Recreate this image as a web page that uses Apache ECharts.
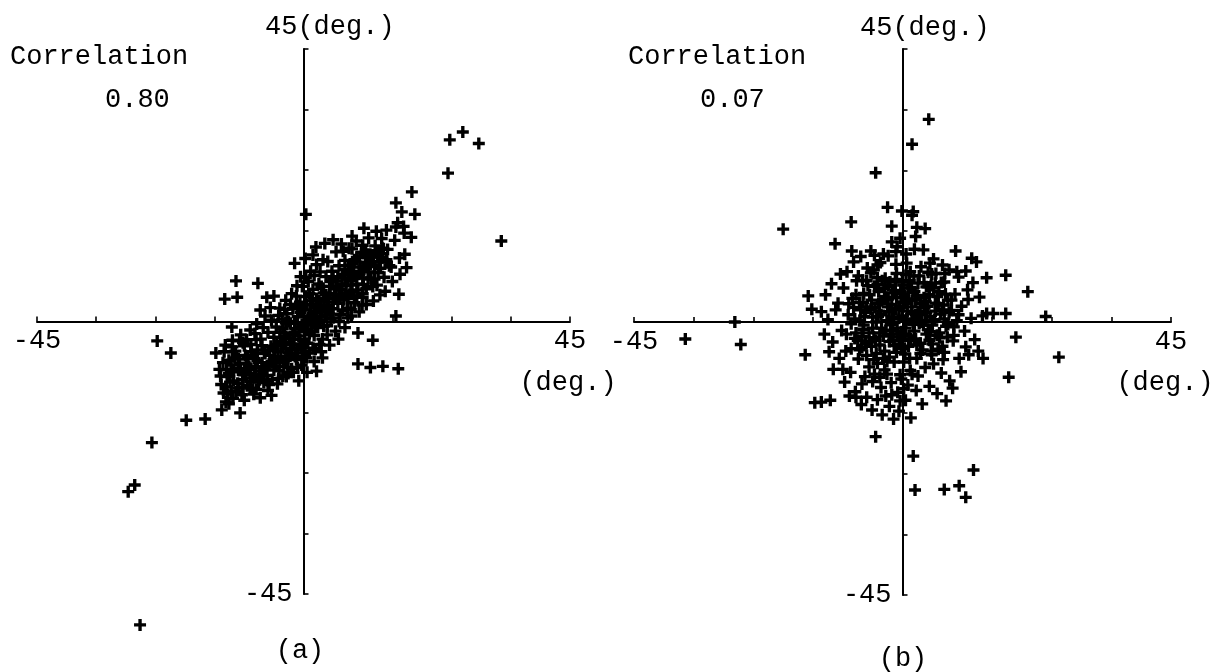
<!DOCTYPE html>
<html>
<head>
<meta charset="utf-8">
<script src="https://cdn.jsdelivr.net/npm/echarts@6/dist/echarts.min.js"></script>
<style>
html,body{margin:0;padding:0;background:#fff;}
#chart{width:1222px;height:672px;}
</style>
</head>
<body>
<div id="chart"></div>
<script>
// ---- DATA ----
const axisRange = [-45, 45];
const tickStep = 10;
const endLabels = ['-45', '45'];
const unitLabel = '(deg.)';
const panelLabels = ['(a)', '(b)'];
const corrTitle = 'Correlation';
const correlations = ['0.80', '0.07'];

// panel (a): [x, y] in degrees
const pointsA = [
 [-27.6,-50.1],[-29.6,-28.1],[-28.5,-27.0],[-25.6,-20.0],[-19.8,-16.3],[-16.6,-16.1],[-13.8,-14.6],[-13.1,-13.3],[-10.7,-15.1],
 [-24.7,-3.2],[-22.4,-5.2],[-11.4,6.7],[-7.7,6.3],[-13.3,3.7],[-11.2,4.0],[-12.1,-0.9],[-10.2,-3.5],[-6.2,4.0],[-5.0,4.2],[-7.3,1.9],
 [26.9,31.3],[24.7,30.0],[29.6,29.4],[33.4,13.3],[24.4,24.5],[18.3,21.4],[15.6,19.6],[16.6,18.1],[18.8,17.7],[15.6,15.6],[18.2,13.9],
 [17.1,11.1],[8.2,14.1],[10.0,12.6],[8.2,12.0],[6.7,11.6],[5.5,11.5],[13.3,12.1],[11.7,11.0],[10.9,10.5],[10.7,9.7],[14.1,9.8],[14.5,9.2],
 [1.6,11.0],[0.4,17.7],[0.4,7.2],[12.9,4.4],[16.1,4.5],[10.0,4.0],[9.9,2.7],[15.6,0.9],[7.5,0.6],[9.2,-1.9],[11.7,-3.1],
 [9.2,-7.0],[11.3,-7.6],[13.4,-7.4],[16.0,-7.8],[2.2,-8.2],[0.3,-5.0],
 [-14.8,-5.2],[-14.2,-7.9],[-13.9,-10.4],[-13.5,-11.8],[-12.9,-9.1],[-12.6,-6.4],[-12.2,-11.5],[-11.8,-8.3],[-11.5,-4.9],[-11.1,-10.2],
 [-10.8,-6.9],[-10.4,-12.1],[-10.1,-8.8],[-9.8,-5.6],[-9.5,-10.6],[-9.2,-7.4],[-8.9,-3.8],[-8.6,-9.3],[-8.3,-6.1],[-8.0,-11.2],
 [-7.8,-4.7],[-7.5,-8.2],[-7.2,-2.9],[-7.0,-6.8],[-6.7,-10.1],[-6.5,-5.3],[-6.2,-8.9],[-6.0,-1.8],[-5.8,-7.0],[-5.5,-4.1],
 [-5.3,-9.6],[-5.0,-2.6],[-4.8,-6.2],[-4.6,-0.9],[-4.3,-5.0],[-4.1,-8.1],[-3.9,-3.3],[-3.6,0.4],[-3.4,-6.7],[-3.2,-1.9],
 [-3.0,-4.5],[-2.8,1.3],[-2.6,-7.6],[-2.4,-2.8],[-2.2,-0.3],[-2.0,-5.5],[-1.8,2.1],[-1.6,-3.7],[-1.4,-1.2],[-1.2,-6.3],
 [-1.0,0.8],[-0.8,-2.4],[-0.6,3.2],[-0.4,-4.2],[-0.2,-0.6],[0.0,1.9],[0.2,-3.1],[0.4,4.1],[0.6,-1.5],[0.8,0.6],
 [1.0,-5.2],[1.2,2.7],[1.4,-0.4],[1.6,5.3],[1.8,-2.3],[2.0,1.4],[2.2,3.8],[2.4,-1.0],[2.6,6.2],[2.8,0.2],
 [3.0,2.5],[3.2,-2.9],[3.4,4.7],[3.6,1.1],[3.8,7.4],[4.0,-0.7],[4.2,3.2],[4.4,5.8],[4.6,0.5],[4.8,8.3],
 [5.0,2.1],[5.2,4.4],[5.4,-1.6],[5.6,6.7],[5.8,3.0],[6.0,9.2],[6.2,1.2],[6.4,5.3],[6.6,7.8],[6.8,3.6],
 [7.0,10.1],[7.2,5.9],[7.4,2.2],[7.6,8.4],[7.8,4.5],[8.0,6.8],[8.3,9.6],[8.6,3.1],[8.9,7.5],[9.2,5.2],
 [9.5,10.7],[9.8,8.3],[10.1,6.1],[10.5,11.8],[10.9,7.2],[11.3,9.4],[11.7,5.8],[12.1,12.5],[12.6,8.1],[13.1,10.6],
 [13.6,7.3],[14.2,11.9],[14.8,9.0],[15.4,13.4],[16.2,10.5],[17.0,14.6],
 [-13.2,-3.9],[-12.0,-3.1],[-10.6,-2.2],[-9.0,-1.4],[-8.4,-12.0],[-7.3,-12.6],[-11.9,-12.7],[-12.8,-12.0],[-6.0,-11.4],[-4.4,-10.3],
 [-2.9,-9.1],[-1.7,-8.4],[-0.3,-7.2],[0.5,-6.0],[1.6,-4.4],[2.7,-3.8],[-4.0,2.2],[-3.0,3.5],[-2.0,4.6],[-1.1,5.9],
 [-0.5,7.4],[-6.5,0.9],[-5.6,2.3],[-7.9,-0.4],[1.2,8.3],[2.2,9.4],[3.3,10.2],[4.1,9.9],[3.0,-5.0],[4.4,-3.9],
 [5.9,-2.9],[7.0,-1.0],[8.1,0.9],[9.4,1.6],[10.6,2.8],[11.8,3.4],[12.4,6.0],[13.8,5.0],[15.0,6.6],[16.3,7.8],
 [17.4,8.9],[-1.5,9.6],[0.3,10.4],[2.1,12.3],[3.6,12.9],[5.0,13.5],[6.4,12.8],[8.9,13.3],[7.7,12.1],[11.0,13.8],
 [12.3,14.9],[14.0,15.1],[13.2,13.7],[15.9,16.3],[16.9,15.7],[10.2,15.4],
 [-13.0,-8.0],[-12.4,-10.0],[-11.6,-6.0],[-11.0,-8.0],[-10.3,-9.6],[-9.6,-7.0],[-9.0,-9.9],[-8.8,-5.0],[-8.1,-7.6],[-7.6,-10.0],
 [-7.0,-4.0],[-6.6,-7.5],[-6.0,-9.8],[-5.7,-5.6],[-5.0,-8.0],[-4.5,-3.8],[-4.0,-6.8],[-3.5,-9.0],[-3.0,-2.5],[-2.5,-5.2],
 [-2.0,-7.8],[-1.5,-1.8],[-1.0,-4.6],[-0.5,-1.0],[0.0,-4.0],[0.5,0.2],[1.0,-2.0],[1.5,1.0],[2.0,-0.8],[2.5,2.6],
 [3.0,0.8],[3.5,3.6],[4.0,1.6],[4.5,4.6],[5.0,3.2],[5.5,5.4],[6.0,3.8],[6.5,6.2],[7.0,4.6],[7.5,7.0],
 [8.0,5.0],[8.5,8.0],[9.0,6.2],[9.5,9.0],[10.0,7.2],[10.5,9.8],[11.0,8.2],[11.5,10.8],[12.0,9.2],[12.5,11.0],
 [13.0,8.8],[13.5,12.0],[14.0,10.2],[-12.0,-5.0],[-10.0,-4.0],[-8.0,-3.0],[-6.0,-4.8],[-4.0,-1.8],[-2.0,-3.8],[0.0,-1.0],
 [2.0,0.4],[4.0,2.6],[6.0,5.2],[8.0,8.0],[10.0,9.0],[12.0,7.0],[-1.0,2.6],[1.0,4.6],[3.0,5.8],[5.0,7.0],
 [7.0,8.6],[9.0,10.6],[-3.0,-0.2],[-5.0,-6.6],[-7.0,-8.8],[-9.0,-11.0],[-11.0,-11.0],[0.0,-5.8],[2.0,-4.6],[4.0,-2.2],
 [6.0,0.0],[8.0,2.0],[10.0,4.6],[-0.5,1.5],[0.5,2.8],[1.5,3.4],[-1.5,-0.2],[-2.5,0.0],[-3.5,-1.2],
 [-14.0,-9.0],[-13.6,-6.8],[-13.0,-10.8],[-12.6,-8.6],[-12.2,-7.2],[-11.8,-9.8],[-11.4,-11.6],[-11.0,-6.2],[-10.6,-7.8],[-10.2,-10.8],
 [-9.8,-8.4],[-9.4,-6.0],[-9.0,-8.0],[-8.6,-11.2],[-8.2,-9.0],[-7.8,-6.4],[-7.4,-9.6],[-7.0,-7.6],[-6.6,-5.2],[-6.2,-8.0],
 [-5.8,-10.4],[-5.4,-6.6],[-5.0,-4.6],[-4.6,-7.4],[-4.2,-9.4],[-3.8,-5.8],[-3.4,-3.4],[-3.0,-6.4],[-2.6,-8.6],[-2.2,-4.4],
 [-1.8,-2.2],[-1.4,-5.8],[-1.0,-7.6],[-0.6,-3.0],[-0.2,-5.2],[0.2,-0.6],[0.6,-3.6],[1.0,0.8],[1.4,-1.6],[1.8,2.2],
 [2.2,-0.2],[2.6,3.4],[3.0,1.8],[3.4,-0.8],[3.8,4.4],[4.2,2.0],[4.6,6.6],[5.0,0.6],[5.4,3.8],[5.8,7.4],
 [6.2,4.2],[6.6,1.8],[7.0,7.2],[7.4,3.8],[7.8,9.2],[8.2,6.0],[8.6,10.2],[9.0,4.2],[9.4,7.8],[9.8,11.4],
 [10.2,8.6],[10.6,5.4],[11.0,11.0],[11.4,7.0],[11.8,9.8],[12.2,11.6],[12.8,9.8],[13.4,11.2],[-13.4,-5.0],[-12.0,-4.2],
 [-10.8,-3.2],[-9.6,-3.0],[-8.2,-2.0],[-6.8,-1.0],[-5.4,0.2],[-4.2,1.0],[-3.2,2.0],[-2.2,2.8],[-1.2,4.2],[-0.2,5.8],
 [0.8,6.6],[1.8,7.6],[2.8,8.2],[-0.8,-9.8],[0.6,-8.4],[1.8,-6.6],[3.2,-6.0],[-12.6,-13.6],[-10.0,-13.0],[-5.4,-12.2]
];

// panel (b): [x, y] in degrees
const pointsB = [
 [4.4,33.4],[1.6,29.3],[-4.5,24.6],[-20.0,15.3],[-2.5,18.9],[-0.1,18.3],[1.8,18.2],[1.6,17.6],[-8.6,16.5],[-1.8,15.8],
 [2.4,15.6],[3.8,15.4],[2.2,14.1],[-11.3,12.9],[-8.5,11.7],[-1.8,13.2],[-0.4,13.8],[-1.1,11.6],[-4.7,11.0],[-3.2,11.2],
 [-4.2,9.4],[-9.3,8.3],[-6.7,6.9],[-5.3,8.1],[-4.2,7.3],[8.9,11.7],[11.6,10.5],[12.4,9.9],[14.1,7.3],[17.3,7.7],
 [21.0,5.0],[11.0,3.7],[-15.8,4.3],[-15.2,2.1],[14.1,1.4],[15.2,1.4],[17.3,1.4],[24.0,0.9],[19.0,-2.5],[10.6,-4.1],
 [-16.3,-5.4],[4.9,-5.4],[13.5,-6.0],[7.1,8.0],[9.1,8.3],[4.6,9.7],[0.7,9.7],[1.3,8.3],
 [-36.4,-2.8],[-27.1,-3.7],[-28.1,0.0],[-11.6,-7.8],[-14.7,-13.3],[-13.6,-13.2],[-12.1,-12.9],[-7.8,-12.4],
 [-4.5,-18.9],[1.8,-22.1],[2.1,-27.7],[11.9,-24.4],[7.0,-27.6],[9.5,-27.0],[10.6,-28.9],
 [17.8,-9.1],[26.2,-5.8],
 [-10.8,3.1],[-10.2,-1.4],[-9.9,5.6],[-9.5,-4.8],[-9.1,1.2],[-8.7,-8.3],[-8.4,3.9],[-8.0,-2.7],[-7.7,6.8],[-7.4,-6.1],
 [-7.1,0.3],[-6.8,-10.2],[-6.5,4.7],[-6.2,-3.6],[-5.9,8.9],[-5.6,-7.4],[-5.3,2.1],[-5.0,-1.0],[-4.7,5.9],[-4.4,-5.2],
 [-4.1,0.9],[-3.8,-9.1],[-3.5,3.5],[-3.2,-2.3],[-2.9,7.2],[-2.6,-6.5],[-2.3,1.7],[-2.0,-0.4],[-1.7,4.8],[-1.4,-3.9],
 [-1.1,9.5],[-0.8,-11.6],[-0.5,2.6],[-0.2,-1.6],[0.1,6.1],[0.4,-5.3],[0.7,0.5],[1.0,3.8],[1.3,-8.0],[1.6,1.4],
 [1.9,7.6],[2.2,-2.8],[2.5,4.4],[2.8,-0.2],[3.1,9.1],[3.4,-4.6],[3.7,2.3],[4.0,5.8],[4.3,-1.3],[4.6,0.9],
 [4.9,7.9],[5.2,-6.9],[5.5,3.1],[5.8,-2.2],[6.1,5.0],[6.4,1.3],[6.7,-4.0],[7.0,6.6],[7.3,-0.7],[7.6,3.6],
 [7.9,-9.7],[8.2,1.9],[8.5,-3.1],[8.8,4.6],[9.1,0.2],[9.5,-6.0],[9.9,2.6],[10.4,-1.5],[10.9,5.3],[11.5,0.6],[12.1,-2.9],
 [-12.5,0.4],[-11.7,-3.3],[-11.2,2.0],[-10.6,-6.0],[-9.7,-9.9],[-8.9,-12.2],[-7.9,-11.5],[-6.9,-13.6],[-6.0,-12.4],[-5.1,-14.5],
 [-4.2,-12.8],[-3.4,-15.3],[-2.2,-13.9],[-1.5,-16.0],[-0.6,-14.7],[0.5,-12.9],[1.4,-15.8],[2.3,-11.3],[3.3,-13.5],[4.5,-10.6],
 [-1.9,-10.0],[-0.4,-8.7],[0.9,-10.4],[2.6,-8.9],[3.8,-7.5],[-3.0,-7.9],[-4.7,-8.6],[-6.3,-9.0],[-10.0,-7.8],[-12.3,-4.9],
 [-13.1,-2.0],[-13.6,1.7],[-12.9,4.5],[-11.9,6.3],[-10.4,7.9],[-8.2,9.9],[-7.0,10.8],[-5.3,11.7],[-3.7,9.8],[-2.4,10.9],
 [-0.9,12.4],[0.6,11.2],[2.0,12.0],[3.5,11.9],[5.2,10.4],[6.7,9.4],[7.8,8.6],[9.4,7.4],[10.6,8.4],[11.8,6.5],
 [12.9,4.1],[13.4,1.0],[12.7,-4.8],[11.1,-5.4],[9.8,-8.2],[8.4,-10.9],[6.5,-8.4],[5.8,-11.8],[7.3,-13.0],[-2.8,4.1],
 [-1.2,2.0],[0.3,3.1],[1.8,0.0],[-0.9,-1.0],[0.0,-3.0],[1.1,-2.3],[2.6,1.7],[3.9,3.4],[-3.9,1.8],[-4.8,-2.6],
 [-6.6,-1.2],[-8.6,-0.3],[-6.0,2.5],[-2.1,6.6],[-0.3,5.0],[1.5,5.6],[4.3,8.2],[5.5,6.4],[6.9,2.8],
 [-7.5,-3.0],[-7.0,2.0],[-6.5,-0.5],[-6.0,-5.5],[-5.5,4.5],[-5.0,0.8],[-4.5,-3.0],[-4.0,3.0],[-3.5,-1.0],[-3.0,5.5],
 [-3.0,-4.8],[-2.5,2.5],[-2.0,-2.0],[-1.5,0.5],[-1.0,-5.0],[-1.0,4.0],[-0.5,-2.5],[0.0,1.0],[0.5,-1.0],[0.5,3.5],
 [1.0,-4.0],[1.5,2.5],[2.0,-1.5],[2.0,5.0],[2.5,0.5],[3.0,-3.5],[3.0,3.0],[3.5,-0.5],[4.0,1.5],[4.5,-3.0],
 [4.5,4.5],[5.0,-0.5],[5.5,1.8],[6.0,-4.5],[6.0,3.0],[6.5,6.5],[7.0,0.5],[7.5,-2.5],[-8.0,0.5],[-7.8,4.5],
 [-6.8,-2.4],[-5.8,6.0],[-5.2,-4.0],[-4.2,-6.8],[-3.4,6.8],[-2.2,-5.8],[-1.2,7.0],[0.2,-6.6],[1.2,6.8],[2.4,-6.0],
 [3.6,6.5],[4.8,-4.8],[5.6,8.0],[6.8,-6.2],[-2.6,0.2],[-1.6,-1.4],[-0.6,0.6],[0.8,1.8],[1.8,-0.4],[2.8,1.2],
 [-3.8,-1.8],[-4.6,2.4],[-5.6,-1.8],[-6.4,0.9],[-1.8,2.9],[0.2,4.6],[2.2,3.6],[3.8,0.2],[4.6,-1.6],[5.2,5.6],
 [-0.4,-3.6],[-1.6,-3.0],[1.4,-2.8],[2.4,-3.8],[-2.4,3.8],[-4.0,5.0],[-6.6,3.2],[-7.2,-4.6],[6.2,-1.8],[7.8,1.6],
 [8.6,-0.8],[-9.4,-2.0],
 [-7.8,-1.8],[-7.2,3.2],[-6.8,-4.2],[-6.2,1.6],[-6.0,6.8],[-5.6,-3.2],[-5.2,3.6],[-4.8,-6.2],[-4.4,0.0],[-4.2,6.2],
 [-3.8,-3.8],[-3.6,1.2],[-3.2,-6.0],[-3.0,3.8],[-2.8,-1.4],[-2.4,6.0],[-2.2,-3.2],[-1.8,0.8],[-1.4,-6.6],[-1.2,5.2],
 [-0.8,-2.0],[-0.6,2.2],[-0.2,-4.4],[0.0,6.6],[0.4,-2.0],[0.6,0.2],[1.0,5.6],[1.2,-6.0],[1.6,3.6],[2.0,-3.0],
 [2.2,1.2],[2.6,6.4],[3.0,-5.2],[3.2,0.0],[3.6,4.0],[4.0,-2.0],[4.2,2.6],[4.8,6.0],[5.0,-3.6],[5.4,0.4],
 [5.8,4.2],[6.2,-2.6],[6.6,2.0],[7.0,-5.0],[7.2,4.6],[7.6,-0.4],[-9.0,3.0],[-8.6,-4.4],[-7.4,7.6],[-1.0,8.0],
 [0.6,7.8],[2.8,7.6],[-2.6,-8.6],[-0.2,-9.4],[1.6,-8.6],[-5.0,-9.8],[-8.2,2.4],[8.2,3.6],[8.6,-2.2],[9.4,1.2],
 [-4.8,8.6],[-3.6,-10.8],[-1.8,-12.0],[0.2,-11.0],[-2.8,-12.2],[-0.4,-13.0]
];

// ---- CHART ----
const FONT = '"Liberation Mono", "DejaVu Sans Mono", monospace';
const FS = 27;
const plusPath = 'path://M3.6,0H6.4V3.6H10V6.4H6.4V10H3.6V6.4H0V3.6H3.6Z';

const grids = [
  {left: 37, right: 1222 - 570, top: 49, bottom: 672 - 594, outerBoundsMode: 'none', containLabel: false},
  {left: 634, right: 1222 - 1171, top: 49, bottom: 672 - 595, outerBoundsMode: 'none', containLabel: false}
];
const gridW = i => 1222 - grids[i].left - grids[i].right;
const gridH = i => 672 - grids[i].top - grids[i].bottom;

function endFmt(v) {
  if (v === axisRange[0]) return endLabels[0];
  if (v === axisRange[1]) return endLabels[1];
  return '';
}

function xAxisFor(i) {
  return {
    type: 'value', gridIndex: i, min: axisRange[0], max: axisRange[1], interval: tickStep,
    position: 'bottom', offset: -gridH(i) / 2,
    splitLine: {show: false},
    axisLine: {onZero: false, lineStyle: {color: '#000', width: 2}},
    axisTick: {inside: true, length: 5, lineStyle: {color: '#000', width: 1.6}},
    axisLabel: {formatter: endFmt, color: '#000', fontFamily: FONT, fontSize: FS, margin: 6,
                showMinLabel: true, showMaxLabel: true}
  };
}
function yAxisFor(i) {
  return {
    type: 'value', gridIndex: i, min: axisRange[0], max: axisRange[1], interval: tickStep,
    position: 'left', offset: -gridW(i) / 2,
    splitLine: {show: false},
    axisLine: {onZero: false, lineStyle: {color: '#000', width: 2}},
    axisTick: {inside: true, length: 5, lineStyle: {color: '#000', width: 1.6}},
    axisLabel: {formatter: v => (v === axisRange[0] ? endLabels[0] : ''), color: '#000',
                fontFamily: FONT, fontSize: FS, margin: 11, showMinLabel: true}
  };
}

function seriesFor(i, pts) {
  return {
    type: 'scatter', xAxisIndex: i, yAxisIndex: i, data: pts,
    symbol: plusPath, symbolSize: 12, clip: false, large: false,
    itemStyle: {color: '#000', opacity: 1}, emphasis: {disabled: true}, animation: false
  };
}

const txt = (x, y, s, align) => ({
  type: 'text', x: x, y: y,
  style: {text: s, fill: '#000', font: FS + 'px ' + FONT, textAlign: align || 'left', textVerticalAlign: 'middle'}
});

const option = {
  backgroundColor: '#fff',
  animation: false,
  grid: grids,
  xAxis: [xAxisFor(0), xAxisFor(1)],
  yAxis: [yAxisFor(0), yAxisFor(1)],
  series: [seriesFor(0, pointsA), seriesFor(1, pointsB)],
  graphic: [
    txt(10, 57, corrTitle), txt(105, 100, correlations[0]),
    txt(628, 57, corrTitle), txt(700, 100, correlations[1]),
    txt(265, 27, endLabels[1] + unitLabel), txt(860, 28, endLabels[1] + unitLabel),
    txt(568, 383, unitLabel, 'center'), txt(1165, 383, unitLabel, 'center'),
    txt(300, 651, panelLabels[0], 'center'), txt(903, 659, panelLabels[1], 'center')
  ]
};

const chart = echarts.init(document.getElementById('chart'), null, {renderer: 'canvas'});
chart.setOption(option);
</script>
</body>
</html>
